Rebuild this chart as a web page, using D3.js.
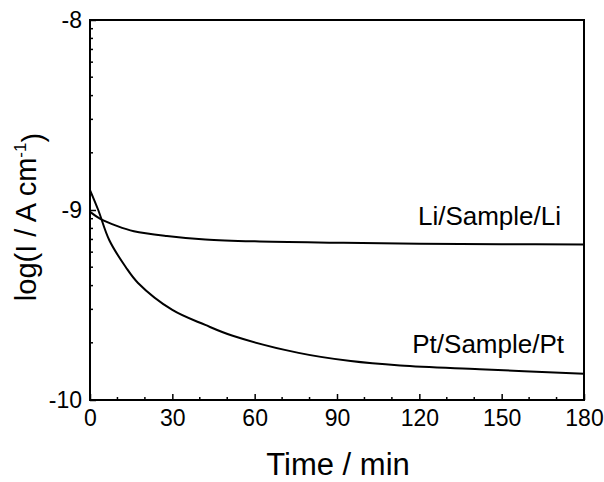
<!DOCTYPE html>
<html lang="en">
<head>
    <meta charset="UTF-8">
    <title>log I vs time</title>
    <script src="https://d3js.org/d3.v7.min.js"></script>
    <style>
        body{ margin: 0; background: white; }
        text{ font-family: "Liberation Sans", Arial, sans-serif; fill: black; }
        .axis path, .axis line{ stroke: black; }
    </style>
</head>
<body>
<svg id="canvas" width="604" height="482"></svg>
<script>
    // values
    let ptTime = [0, 3, 7, 13, 17.5, 30, 42, 52, 76, 95, 113, 142, 180];
    let ptLogI = [-8.895, -9.0, -9.158, -9.3, -9.384, -9.526, -9.605, -9.662, -9.752, -9.795, -9.818, -9.838, -9.862];
    let liTime = [0, 3.6, 10, 16, 28, 42, 60, 90, 120, 150, 180];
    let liLogI = [-9.01, -9.045, -9.085, -9.112, -9.137, -9.155, -9.165, -9.172, -9.177, -9.18, -9.182];

    let xTicks = [0, 30, 60, 90, 120, 150, 180];
    let xMinor = [10, 20, 40, 50, 70, 80, 100, 110, 130, 140, 160, 170];
    let yTicks = [-10, -9, -8];
    let yMinorMult = [2, 3, 4, 5, 6, 7, 8, 9];

    let svg = d3.select('#canvas');
    let plotLeft = 90, plotRight = 584, plotTop = 20, plotBottom = 400;

    let xscale = d3.scaleLinear().domain([0, 180]).range([plotLeft, plotRight]);
    let yscale = d3.scaleLinear().domain([-10, -8]).range([plotBottom, plotTop]);

    // frame
    svg.append('rect')
        .attr('x', plotLeft).attr('y', plotTop)
        .attr('width', plotRight - plotLeft).attr('height', plotBottom - plotTop)
        .attr('fill', 'none').attr('stroke', 'black').attr('stroke-width', 2);

    // x axis ticks (inside)
    let xAxis = svg.append('g').attr('class', 'axis')
        .attr('transform', `translate(0,${plotBottom})`)
        .call(d3.axisBottom(xscale).tickValues(xTicks).tickSize(-6).tickPadding(10).tickFormat(d => String(d)));
    xAxis.select('.domain').remove();
    xAxis.selectAll('line').attr('stroke-width', 1.5);
    xAxis.selectAll('text').style('font-size', '23px').attr('dy', '0.71em');

    svg.append('g').selectAll('line').data(xMinor).enter().append('line')
        .attr('x1', d => xscale(d)).attr('x2', d => xscale(d))
        .attr('y1', plotBottom).attr('y2', plotBottom - 3)
        .attr('stroke', 'black').attr('stroke-width', 1.5);

    // y axis ticks (inside)
    let yAxis = svg.append('g').attr('class', 'axis')
        .attr('transform', `translate(${plotLeft},0)`)
        .call(d3.axisLeft(yscale).tickValues(yTicks).tickSize(-6).tickPadding(8).tickFormat(d => String(d)));
    yAxis.select('.domain').remove();
    yAxis.selectAll('line').attr('stroke-width', 1.5);
    yAxis.selectAll('text').style('font-size', '23px');

    let yMinor = [];
    [-10, -9].forEach(function (dec) {
        yMinorMult.forEach(function (m) { yMinor.push(dec + Math.log10(m)); });
    });
    svg.append('g').selectAll('line').data(yMinor).enter().append('line')
        .attr('x1', plotLeft).attr('x2', plotLeft + 3)
        .attr('y1', d => yscale(d)).attr('y2', d => yscale(d))
        .attr('stroke', 'black').attr('stroke-width', 1.5);

    // curves
    let line_generator = d3.line()
        .x(d => xscale(d[0]))
        .y(d => yscale(d[1]))
        .curve(d3.curveCatmullRom.alpha(0.5));

    let ptData = d3.zip(ptTime, ptLogI);
    let liData = d3.zip(liTime, liLogI);

    svg.append('g').selectAll('path')
        .data([ptData, liData])
        .enter()
        .append('path')
        .attr('d', line_generator)
        .attr('fill', 'none')
        .attr('stroke', 'black')
        .attr('stroke-width', 2);

    // curve labels
    svg.append('text').attr('x', 561).attr('y', 225)
        .attr('text-anchor', 'end').style('font-size', '26px')
        .text('Li/Sample/Li');
    svg.append('text').attr('x', 564).attr('y', 353)
        .attr('text-anchor', 'end').style('font-size', '26px')
        .text('Pt/Sample/Pt');

    // axis titles
    svg.append('text').attr('x', 338).attr('y', 475)
        .attr('text-anchor', 'middle').style('font-size', '31px')
        .text('Time / min');

    let yTitle = svg.append('text')
        .attr('transform', `translate(36,217) rotate(-90)`)
        .attr('text-anchor', 'middle').style('font-size', '29px');
    yTitle.append('tspan').text('log(I / A cm');
    yTitle.append('tspan').attr('dy', '-0.6em').style('font-size', '17px').text('-1');
    yTitle.append('tspan').attr('dy', '0.6em').text(')');
</script>
</body>
</html>
